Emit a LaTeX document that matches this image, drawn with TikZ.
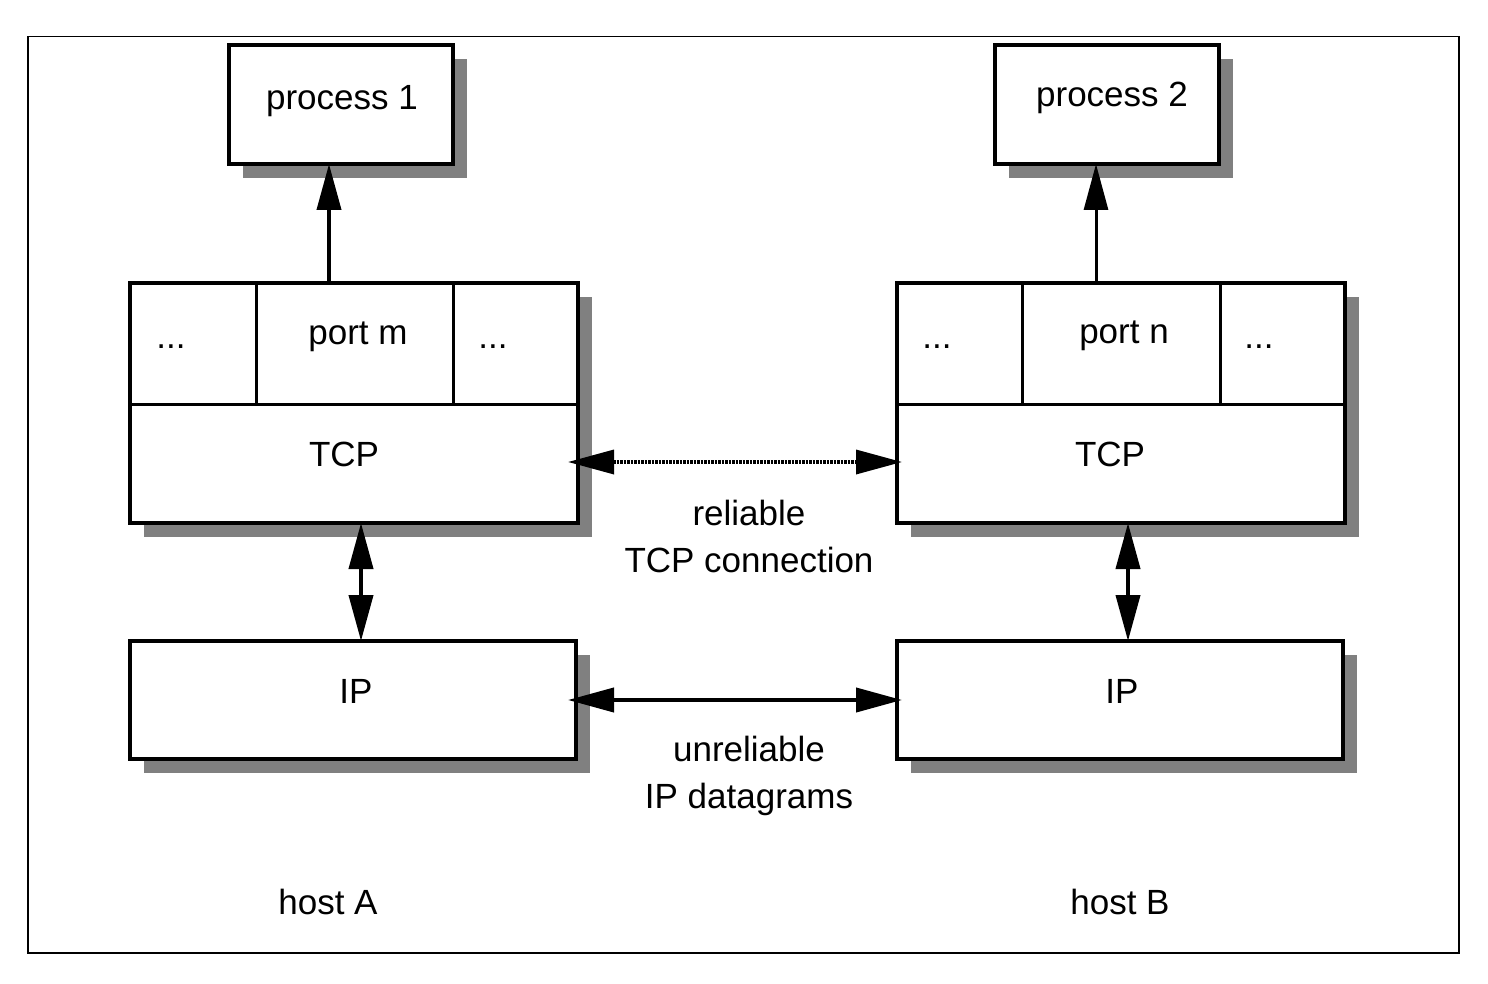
\documentclass[tikz,border=0pt]{standalone}
\usepackage{fontspec}
\setmainfont{Liberation Sans}
\usetikzlibrary{arrows.meta,shadows}
\definecolor{shadowgray}{RGB}{128,128,128}
\tikzset{
	>={Triangle[length=46pt,width=24pt]},
}
\tikzstyle{box}=[draw,line width=4pt,fill=white,anchor=north west,
    inner sep=0pt,outer sep=0pt,
    drop shadow={shadow xshift=14pt,shadow yshift=-14pt,fill=shadowgray,opacity=1}]
\tikzstyle{cell}=[draw,line width=3pt,anchor=north west,inner sep=0pt,outer sep=0pt]
\tikzstyle{lbl}=[anchor=base,inner sep=0pt,font=\fontsize{35}{47}\selectfont]
\tikzstyle{link}=[line width=4pt]

\begin{document}
\begin{tikzpicture}[x=1pt,y=-1pt]
      \useasboundingbox (0,0) rectangle (1488,984);
      \node[draw,line width=1.5pt,anchor=north west,inner sep=0pt,
        minimum width=1431pt,minimum height=916pt] (frame) at (27,36) {};
      % boxes
      \node[box,minimum width=224pt,minimum height=119pt] (proc1) at (229,45) {};
      \node[box,minimum width=224pt,minimum height=119pt] (proc2) at (995,45) {};
      \node[box,minimum width=448pt,minimum height=240pt] (hostA) at (130,283) {};
      \node[box,minimum width=448pt,minimum height=240pt] (hostB) at (897,283) {};
      \node[box,minimum width=446pt,minimum height=118pt] (ipA) at (130,641) {};
      \node[box,minimum width=446pt,minimum height=118pt] (ipB) at (897,641) {};
      \node[cell,minimum width=197pt,minimum height=121pt] (portm) at (256,283) {};
      \node[cell,minimum width=198pt,minimum height=121pt] (portn) at (1022,283) {};
      \draw[line width=3pt] (hostA.west |- portm.south) -- (hostA.east |- portm.south);
      \draw[line width=3pt] (hostB.west |- portn.south) -- (hostB.east |- portn.south);
      % texts
      \node[lbl] (tp1) at (342,110) {process 1};
      \node[lbl] (tp2) at (1112,107) {process 2};
      \node[lbl] (tpm) at (358,344) {port m};
      \node[lbl] (tpn) at (1124,343) {port n};
      \node[lbl] (dA1) at (171,348) {...};
      \node[lbl] (dA2) at (493,348) {...};
      \node[lbl] (dB1) at (937,348) {...};
      \node[lbl] (dB2) at (1259,348) {...};
      \node[lbl] (tcpA) at (344,466) {TCP};
      \node[lbl] (tcpB) at (1110,466) {TCP};
      \node[lbl] (tipA) at (356,703) {IP};
      \node[lbl] (tipB) at (1122,703) {IP};
      \node[lbl,align=center] (rel) at (749,572) {reliable\\TCP connection};
      \node[lbl,align=center] (unrel) at (749,808) {unreliable\\IP datagrams};
      \node[lbl] (hA) at (328,914) {host A};
      \node[lbl] (hB) at (1120,914) {host B};
      % connectors
      \coordinate (upA) at (329,283);
      \coordinate (upB) at (1096,283);
      \coordinate (vA) at (361,523);
      \coordinate (vB) at (1128,523);
      \coordinate (tcpL) at (568,462);
      \coordinate (tcpR) at (902,462);
      \coordinate (ipL) at (568,700);
      \coordinate (ipR) at (902,700);
      \draw[->,link] (upA) -- (upA |- proc1.south);
      \draw[->,line width=3pt] (upB) -- (upB |- proc2.south);
      \draw[<->,link] (vA) -- (vA |- ipA.north);
      \draw[<->,link] (vB) -- (vB |- ipB.north);
      \draw[<->,line width=3.5pt,dash pattern=on 2.5pt off 1pt] (tcpL) -- (tcpR);
      \draw[<->,link] (ipL) -- (ipR);
\end{tikzpicture}
\end{document}
